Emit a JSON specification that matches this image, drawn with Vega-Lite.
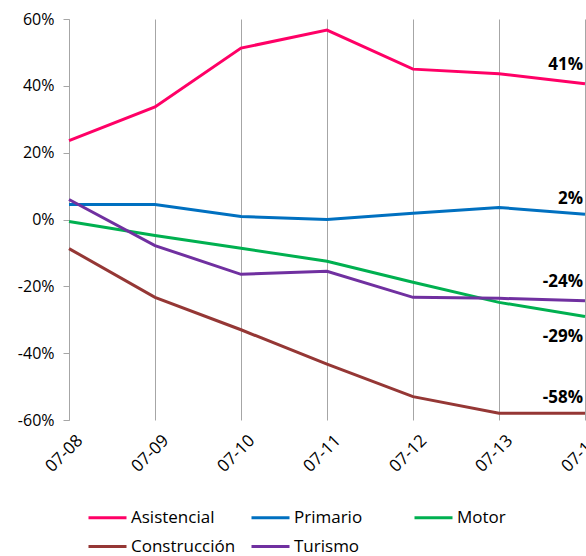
{
  "$schema": "https://vega.github.io/schema/vega-lite/v6.json",
  "width": 516,
  "height": 401,
  "autosize": {"type": "none"},
  "padding": {"left": 69, "top": 19, "right": 1, "bottom": 136},
  "config": {
    "view": {"stroke": null},
    "font": "Open Sans",
    "locale": {"number": {"decimal": ".", "thousands": ",", "grouping": [3], "currency": ["$", ""], "minus": "-"}}
  },
  "data": {
    "values": [
      {"date": "07-08", "serie": "Asistencial", "value": 0.236},
      {"date": "07-09", "serie": "Asistencial", "value": 0.337},
      {"date": "07-10", "serie": "Asistencial", "value": 0.513},
      {"date": "07-11", "serie": "Asistencial", "value": 0.567},
      {"date": "07-12", "serie": "Asistencial", "value": 0.45},
      {"date": "07-13", "serie": "Asistencial", "value": 0.436},
      {"date": "07-14", "serie": "Asistencial", "value": 0.406},
      {"date": "07-08", "serie": "Primario", "value": 0.045},
      {"date": "07-09", "serie": "Primario", "value": 0.045},
      {"date": "07-10", "serie": "Primario", "value": 0.009},
      {"date": "07-11", "serie": "Primario", "value": 0.0},
      {"date": "07-12", "serie": "Primario", "value": 0.019},
      {"date": "07-13", "serie": "Primario", "value": 0.036},
      {"date": "07-14", "serie": "Primario", "value": 0.016},
      {"date": "07-08", "serie": "Motor", "value": -0.006},
      {"date": "07-09", "serie": "Motor", "value": -0.048},
      {"date": "07-10", "serie": "Motor", "value": -0.086},
      {"date": "07-11", "serie": "Motor", "value": -0.125},
      {"date": "07-12", "serie": "Motor", "value": -0.188},
      {"date": "07-13", "serie": "Motor", "value": -0.248},
      {"date": "07-14", "serie": "Motor", "value": -0.29},
      {"date": "07-08", "serie": "Construcción", "value": -0.087},
      {"date": "07-09", "serie": "Construcción", "value": -0.233},
      {"date": "07-10", "serie": "Construcción", "value": -0.33},
      {"date": "07-11", "serie": "Construcción", "value": -0.433},
      {"date": "07-12", "serie": "Construcción", "value": -0.53},
      {"date": "07-13", "serie": "Construcción", "value": -0.58},
      {"date": "07-14", "serie": "Construcción", "value": -0.58},
      {"date": "07-08", "serie": "Turismo", "value": 0.06},
      {"date": "07-09", "serie": "Turismo", "value": -0.078},
      {"date": "07-10", "serie": "Turismo", "value": -0.164},
      {"date": "07-11", "serie": "Turismo", "value": -0.155},
      {"date": "07-12", "serie": "Turismo", "value": -0.233},
      {"date": "07-13", "serie": "Turismo", "value": -0.236},
      {"date": "07-14", "serie": "Turismo", "value": -0.243}
    ]
  },
  "encoding": {
    "x": {
      "field": "date",
      "type": "ordinal",
      "scale": {"type": "point", "padding": 0},
      "axis": {
        "title": null,
        "domain": false,
        "ticks": false,
        "grid": true,
        "gridColor": "#A6A6A6",
        "gridWidth": 1,
        "labelAngle": -45,
        "labelFontSize": 17,
        "labelColor": "#000000",
        "labelPadding": 12,
        "labelOffset": 5
      }
    },
    "y": {
      "field": "value",
      "type": "quantitative",
      "scale": {"domain": [-0.6, 0.6], "nice": false},
      "axis": {
        "title": null,
        "format": ".0%",
        "values": [-0.6, -0.4, -0.2, 0, 0.2, 0.4, 0.6],
        "grid": false,
        "domainColor": "#A6A6A6",
        "tickColor": "#A6A6A6",
        "tickSize": 6,
        "labelPadding": 9,
        "labelFontSize": 16,
        "labelColor": "#000000"
      }
    }
  },
  "layer": [
    {
      "data": {"values": [{}]},
      "mark": {"type": "rule", "color": "#A6A6A6", "strokeWidth": 1},
      "encoding": {"y": {"datum": 0}, "x": null}
    },
    {
      "mark": {"type": "line", "strokeWidth": 3},
      "encoding": {
        "color": {
          "field": "serie",
          "type": "nominal",
          "sort": ["Asistencial", "Primario", "Motor", "Construcción", "Turismo"],
          "scale": {
            "domain": ["Asistencial", "Primario", "Motor", "Construcción", "Turismo"],
            "range": ["#FF0066", "#0070C0", "#00B050", "#953735", "#7030A0"]
          },
          "legend": {
            "title": null,
            "orient": "none",
            "legendX": 18,
            "legendY": 478,
            "direction": "horizontal",
            "columns": 3,
            "gridAlign": "all",
            "columnPadding": 9,
            "rowPadding": 0,
            "padding": 0,
            "symbolType": "stroke",
            "symbolSize": 1444,
            "symbolStrokeWidth": 3,
            "labelOffset": 3,
            "labelFontSize": 17,
            "labelColor": "#000000",
            "labelLimit": 200
          }
        }
      }
    },
    {
      "transform": [{"filter": "datum.date == '07-14' && (datum.serie == 'Asistencial' || datum.serie == 'Turismo')"}],
      "mark": {"type": "text", "align": "right", "baseline": "middle", "dx": -2, "dy": -19, "fontSize": 17, "fontWeight": "bold", "color": "#000000"},
      "encoding": {"text": {"field": "value", "type": "quantitative", "format": ".0%"}}
    },
    {
      "transform": [{"filter": "datum.date == '07-14' && (datum.serie == 'Primario' || datum.serie == 'Construcción')"}],
      "mark": {"type": "text", "align": "right", "baseline": "middle", "dx": -2, "dy": -15, "fontSize": 17, "fontWeight": "bold", "color": "#000000"},
      "encoding": {"text": {"field": "value", "type": "quantitative", "format": ".0%"}}
    },
    {
      "transform": [{"filter": "datum.date == '07-14' && datum.serie == 'Motor'"}],
      "mark": {"type": "text", "align": "right", "baseline": "middle", "dx": -2, "dy": 21, "fontSize": 17, "fontWeight": "bold", "color": "#000000"},
      "encoding": {"text": {"field": "value", "type": "quantitative", "format": ".0%"}}
    }
  ]
}
